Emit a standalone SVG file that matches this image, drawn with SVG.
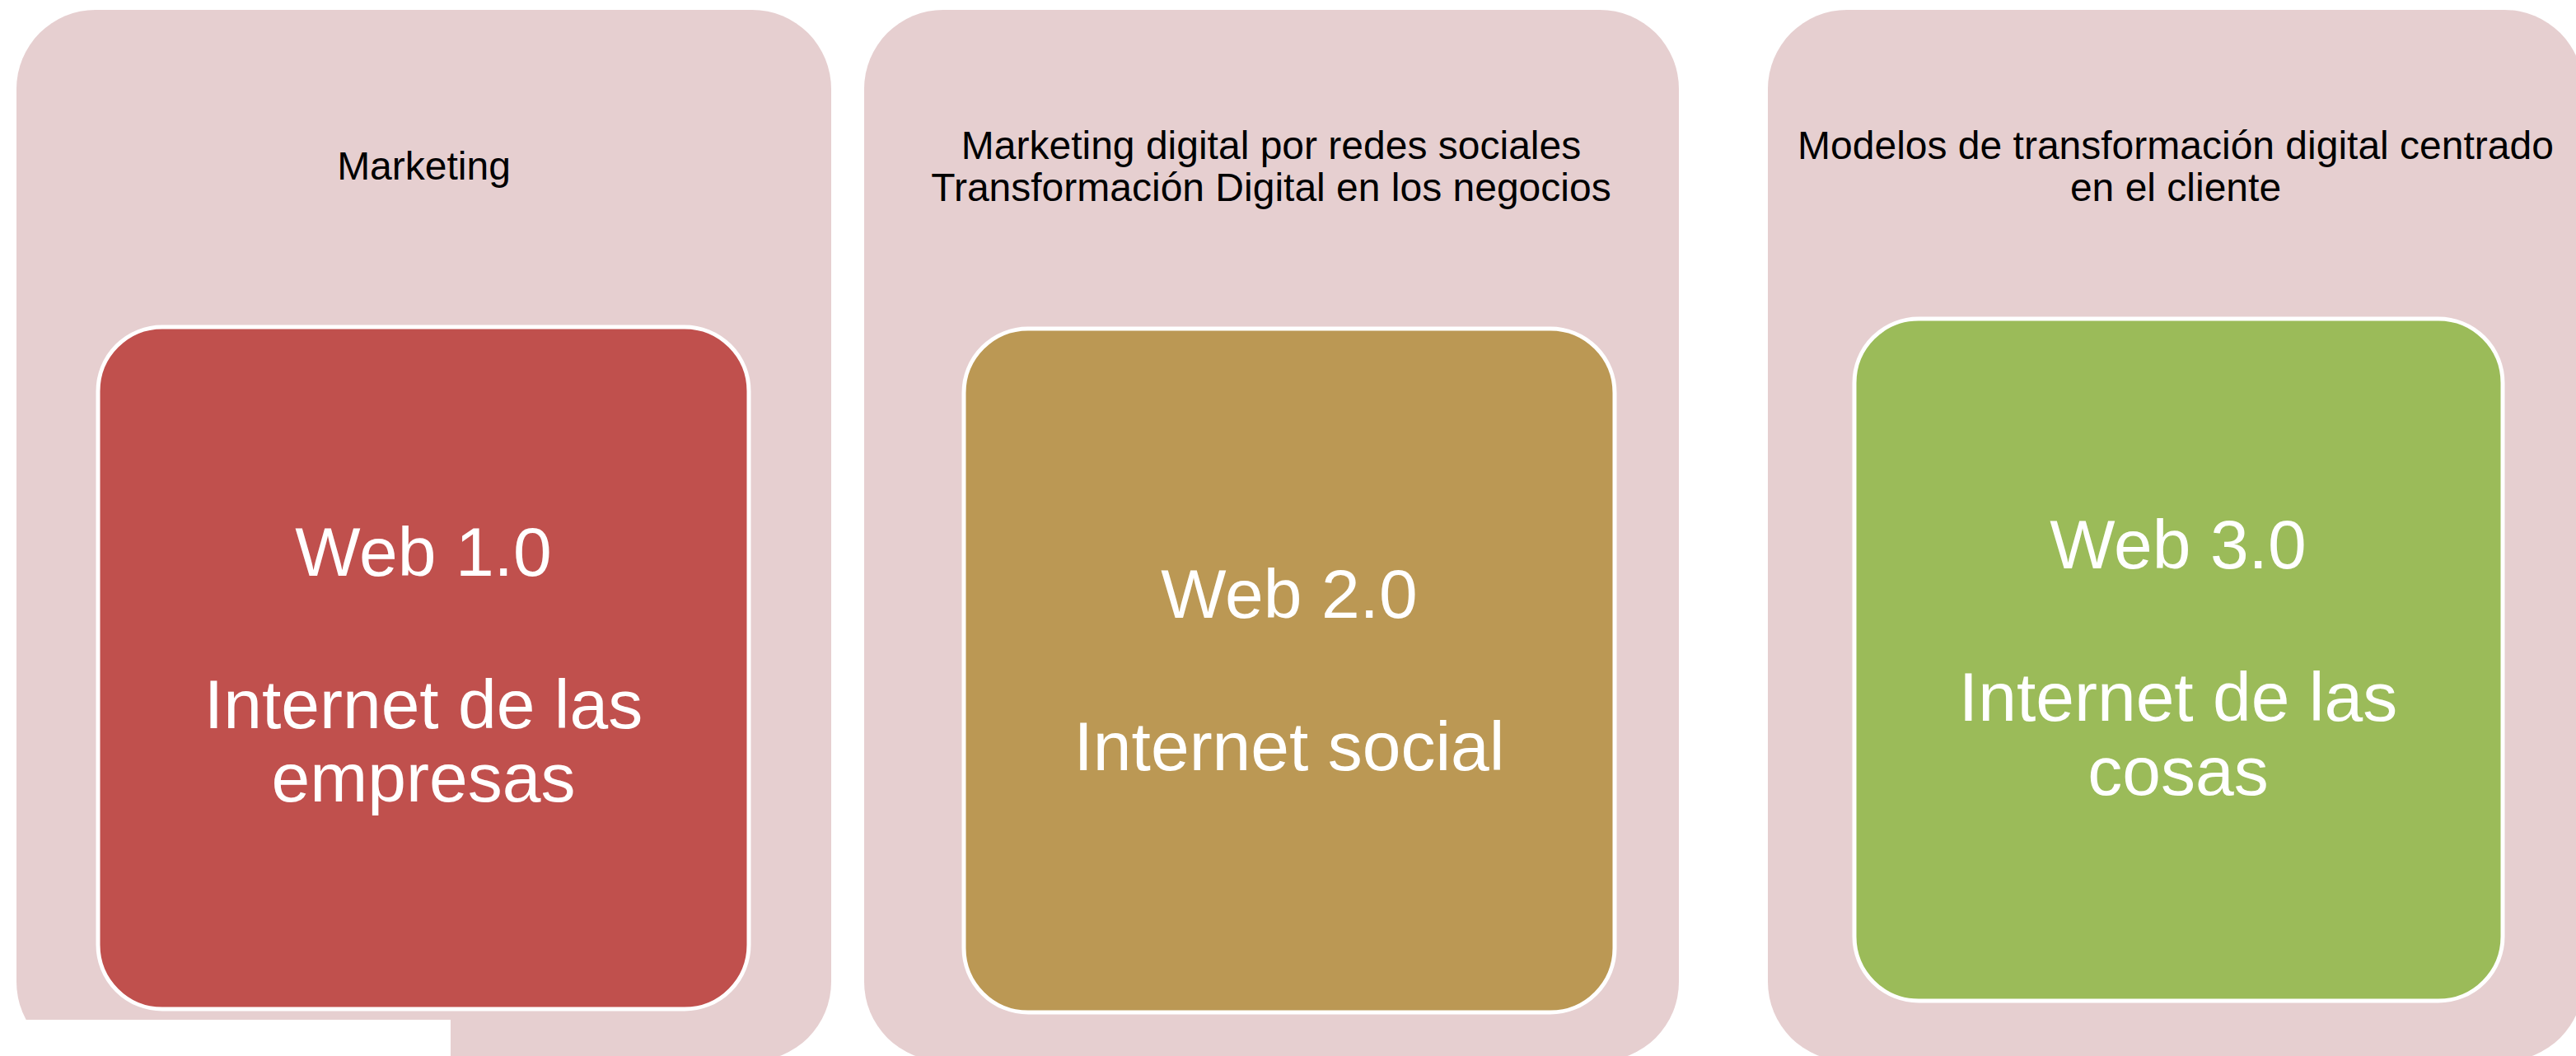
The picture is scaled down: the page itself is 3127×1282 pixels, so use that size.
<svg xmlns="http://www.w3.org/2000/svg" width="3127" height="1282" viewBox="0 0 3127 1282">
  <style>
    .panel { fill: #E6CFD0; }
    .box { stroke: #FFFFFF; stroke-width: 5; }
    .hdr { font-family: "Liberation Sans", Arial, sans-serif; font-size: 48px; fill: #000000; text-anchor: middle; }
    .big { font-family: "Liberation Sans", Arial, sans-serif; font-size: 84px; fill: #FFFFFF; text-anchor: middle; }
  </style>
  <rect width="3127" height="1282" fill="#FFFFFF"/>
  <g id="panel1">
    <rect class="panel" x="20" y="12" width="989" height="1276" rx="96" ry="96"/>
    <text class="hdr" x="514.5" y="218">Marketing</text>
  </g>
  <g id="panel2">
    <rect class="panel" x="1049" y="12" width="989" height="1276" rx="96" ry="96"/>
    <text class="hdr" x="1543" y="193">Marketing digital por redes sociales</text>
    <text class="hdr" x="1543" y="244">Transformación Digital en los negocios</text>
  </g>
  <g id="panel3">
    <rect class="panel" x="2146" y="12" width="990" height="1276" rx="96" ry="96"/>
    <text class="hdr" x="2641" y="193">Modelos de transformación digital centrado</text>
    <text class="hdr" x="2641" y="244">en el cliente</text>
  </g>
  <g id="web1">
    <rect class="box" x="119" y="397" width="790" height="828" rx="78" ry="78" fill="#C0504D"/>
    <text class="big" x="514" y="699">Web 1.0</text>
    <text class="big" x="514" y="884">Internet de las</text>
    <text class="big" x="514" y="973">empresas</text>
  </g>
  <g id="web2">
    <rect class="box" x="1170" y="399" width="790" height="830" rx="78" ry="78" fill="#BB9854"/>
    <text class="big" x="1565" y="750">Web 2.0</text>
    <text class="big" x="1565" y="935">Internet social</text>
  </g>
  <g id="web3">
    <rect class="box" x="2251" y="387" width="787" height="828" rx="78" ry="78" fill="#9BBB59"/>
    <text class="big" x="2644" y="690">Web 3.0</text>
    <text class="big" x="2644" y="875">Internet de las</text>
    <text class="big" x="2644" y="965">cosas</text>
  </g>
  <g id="connectors"></g>
  <rect x="0" y="1238" width="547" height="44" fill="#FFFFFF"/>
</svg>
